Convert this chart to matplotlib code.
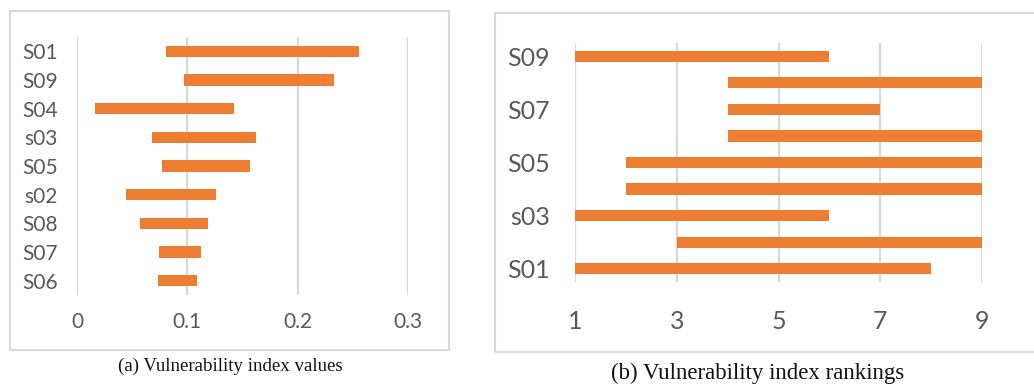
"""
Two floating-bar panels: vulnerability index values and rankings.
"""

import matplotlib
matplotlib.use('Agg')
import matplotlib.pyplot as plt
from matplotlib.patches import Rectangle

# panel (a): index value range per sample, listed top to bottom
values_labels = ['S01', 'S09', 'S04', 's03', 'S05', 's02', 'S08', 'S07', 'S06']
values_low = [0.081, 0.097, 0.016, 0.068, 0.077, 0.044, 0.057, 0.074, 0.073]
values_high = [0.256, 0.233, 0.142, 0.162, 0.157, 0.126, 0.119, 0.112, 0.109]
values_ticks = [0, 0.1, 0.2, 0.3]
values_ticklabels = ['0', '0.1', '0.2', '0.3']

# panel (b): ranking range per sample, listed bottom to top
rank_labels = ['S01', 's02', 's03', 'S04', 'S05', 'S06', 'S07', 'S08', 'S09']
rank_shown = ['S01', '', 's03', '', 'S05', '', 'S07', '', 'S09']
rank_low = [1, 3, 1, 2, 2, 4, 4, 4, 1]
rank_high = [8, 9, 6, 9, 9, 9, 7, 9, 6]
rank_ticks = [1, 3, 5, 7, 9]

BAR = '#ED7D31'
GRID = '#d9d9d9'
TEXT = '#595959'
W, H = 1034, 385


def frac(x0, y0, x1, y1):
    """Pixel box (top-left origin) to figure fractions [l, b, w, h]."""
    return [x0 / W, 1 - y1 / H, (x1 - x0) / W, (y1 - y0) / H]


def style_axes(ax, fontsize):
    for s in ax.spines.values():
        s.set_visible(False)
    ax.tick_params(length=0, colors=TEXT, labelsize=fontsize)
    ax.xaxis.grid(True, color=GRID, linewidth=1.6)
    ax.set_axisbelow(True)
    for lab in ax.get_xticklabels() + ax.get_yticklabels():
        lab.set_fontfamily('Lato')


fig = plt.figure(figsize=(W / 100, H / 100), dpi=100)

# frames around each panel
fig.add_artist(Rectangle((10 / W, 1 - 350 / H), 439 / W, 339 / H,
                         transform=fig.transFigure, fill=False,
                         edgecolor=GRID, linewidth=1.5))
fig.add_artist(Rectangle((495 / W, 1 - 352 / H), 560 / W, 339 / H,
                         transform=fig.transFigure, fill=False,
                         edgecolor=GRID, linewidth=1.5))

# (a)
ax1 = fig.add_axes(frac(77, 37, 408, 295))
n = len(values_labels)
pos = list(range(n))[::-1]
ax1.barh(pos, [h - l for l, h in zip(values_low, values_high)],
         left=values_low, height=0.4, color=BAR)
ax1.set_xlim(0, 0.3)
ax1.set_ylim(-0.5, n - 0.5)
ax1.set_xticks(values_ticks)
ax1.set_xticklabels(values_ticklabels)
ax1.set_yticks(pos)
ax1.set_yticklabels(values_labels)
style_axes(ax1, 15)
ax1.tick_params(axis='x', pad=12)
ax1.tick_params(axis='y', pad=14)

# (b)
ax2 = fig.add_axes(frac(575, 43, 982, 282))
m = len(rank_labels)
ax2.barh(range(m), [h - l for l, h in zip(rank_low, rank_high)],
         left=rank_low, height=0.42, color=BAR)
ax2.set_xlim(1, 9)
ax2.set_ylim(-0.5, m - 0.5)
ax2.set_xticks(rank_ticks)
ax2.set_yticks(range(m))
ax2.set_yticklabels(rank_shown)
style_axes(ax2, 18)
ax2.tick_params(axis='x', pad=20)
ax2.tick_params(axis='y', pad=18)

fig.text(230 / W, 1 - 366 / H, '(a) Vulnerability index values',
         ha='center', va='center', fontsize=13.6,
         family='Liberation Serif', color='#111111')
fig.text(758 / W, 1 - 373 / H, '(b) Vulnerability index rankings',
         ha='center', va='center', fontsize=16.5,
         family='Liberation Serif', color='#111111')

fig.savefig('out.png', dpi=100)
